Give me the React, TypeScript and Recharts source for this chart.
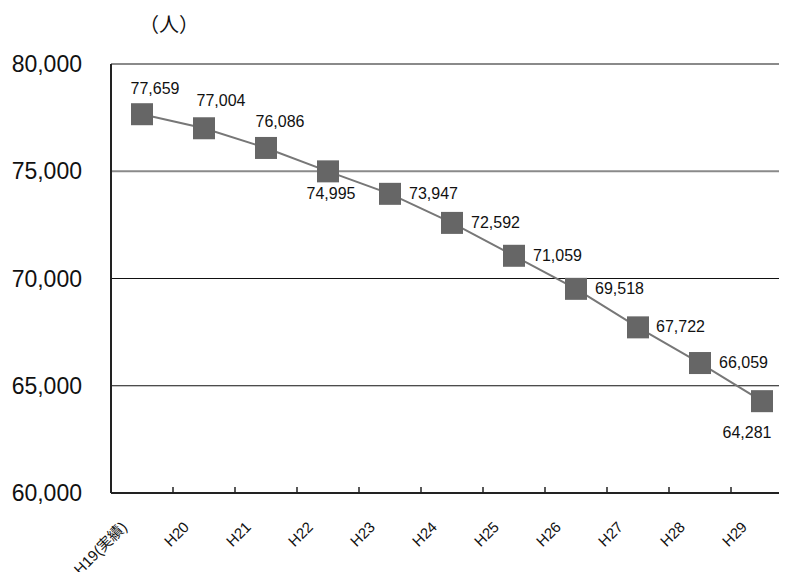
import { LineChart, Line, XAxis, YAxis, ReferenceLine, LabelList } from "recharts";

const categories = ["H19(実績)", "H20", "H21", "H22", "H23", "H24", "H25", "H26", "H27", "H28", "H29"];
const population = [77659, 77004, 76086, 74995, 73947, 72592, 71059, 69518, 67722, 66059, 64281];
const yTicks = [60000, 65000, 70000, 75000, 80000];

// where each value label sits relative to its marker
const labelPlacement = [
  { dx: 13, dy: -20, anchor: "middle" },
  { dx: 17, dy: -22, anchor: "middle" },
  { dx: 14, dy: -21, anchor: "middle" },
  { dx: 3, dy: 28, anchor: "middle" },
  { dx: 19, dy: 5, anchor: "start" },
  { dx: 19, dy: 5, anchor: "start" },
  { dx: 19, dy: 5, anchor: "start" },
  { dx: 19, dy: 5, anchor: "start" },
  { dx: 18, dy: 5, anchor: "start" },
  { dx: 19, dy: 5, anchor: "start" },
  { dx: -15, dy: 37, anchor: "middle" },
];

const data = categories.map((name, i) => ({ name, pos: i + 0.5, value: population[i] }));
const bandTicks = categories.slice(1).map((_, i) => i + 1);
const labelTicks = categories.map((_, i) => i + 0.5);

const FONT = '"Liberation Sans", Arial, "Noto Sans CJK JP", sans-serif';

function SquareDot({ cx, cy }: { cx?: number; cy?: number }) {
  if (cx == null || cy == null) return null;
  return <rect x={cx - 11} y={cy - 11} width={22} height={22} fill="#666666" />;
}

function CategoryTick({ x, y, payload }: any) {
  const idx = Math.round(payload.value - 0.5);
  const ax = x - 14;
  const ay = y + 35;
  return (
    <text x={ax} y={ay} textAnchor="end" fontSize={15} fontFamily={FONT} fill="#111" transform={`rotate(-45 ${ax} ${ay})`}>
      {categories[idx]}
    </text>
  );
}

function ValueLabel({ x, y, value, index }: any) {
  const p = labelPlacement[index] ?? { dx: 0, dy: -16, anchor: "middle" };
  return (
    <text x={x + p.dx} y={y + p.dy} textAnchor={p.anchor} fontSize={16} fontFamily={FONT} fill="#111">
      {Number(value).toLocaleString("en-US")}
    </text>
  );
}

const noLabel = () => <g />;

export default function App() {
  return (
    <div style={{ position: "relative", width: 779, height: 564, overflow: "hidden", fontFamily: FONT }}>
      <div
        style={{
          position: "absolute",
          left: 131,
          top: 2,
          fontSize: 20,
          fontFamily: '"Noto Sans CJK JP", sans-serif',
          color: "#111",
          lineHeight: "28px",
        }}
      >
        （人）
      </div>
      <LineChart width={800} height={564} data={data} margin={{ top: 56, right: 15, bottom: 0, left: 0 }}>
        <XAxis
          xAxisId="band"
          type="number"
          dataKey="pos"
          domain={[0, 11]}
          ticks={bandTicks}
          tick={noLabel}
          tickLine={{ stroke: "#222", strokeWidth: 1.5 }}
          mirror
          tickSize={6}
          height={1}
          axisLine={{ stroke: "#222", strokeWidth: 2 }}
          interval={0}
          allowDataOverflow
        />
        <XAxis
          xAxisId="labels"
          type="number"
          dataKey="pos"
          domain={[0, 11]}
          ticks={labelTicks}
          tick={<CategoryTick />}
          tickLine={false}
          axisLine={false}
          tickSize={0}
          tickMargin={0}
          height={79}
          interval={0}
        />
        <YAxis
          yAxisId="v"
          type="number"
          domain={[60000, 80000]}
          ticks={yTicks}
          width={103}
          tickLine={false}
          tickSize={0}
          tickMargin={29}
          axisLine={{ stroke: "#222", strokeWidth: 2 }}
          tick={{ fontSize: 23, fill: "#111", fontFamily: FONT }}
          tickFormatter={(v: number) => v.toLocaleString("en-US")}
          allowDataOverflow
        />
        <YAxis
          yAxisId="t"
          type="number"
          domain={[60000, 80000]}
          ticks={yTicks}
          width={0}
          mirror
          tick={noLabel}
          tickLine={{ stroke: "#111", strokeWidth: 1.5 }}
          tickSize={8}
          axisLine={false}
          interval={0}
        />
        {yTicks.slice(1).map((t) => (
          <ReferenceLine
            key={t}
            xAxisId="band"
            yAxisId="v"
            y={t}
            stroke={t >= 75000 ? "#8a8a8a" : "#111"}
            strokeWidth={t >= 75000 ? 2 : 1}
          />
        ))}
        <Line
          xAxisId="band"
          yAxisId="v"
          type="linear"
          dataKey="value"
          stroke="#777777"
          strokeWidth={2}
          dot={<SquareDot />}
          activeDot={false}
          isAnimationActive={false}
        >
          <LabelList dataKey="value" content={<ValueLabel />} />
        </Line>
      </LineChart>
    </div>
  );
}
